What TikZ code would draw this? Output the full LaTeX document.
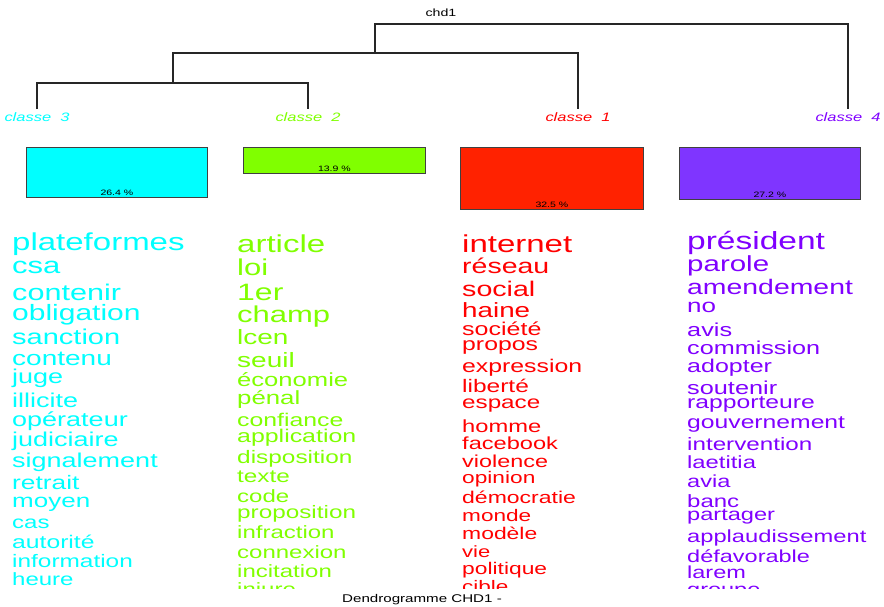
\documentclass[tikz,border=0pt]{standalone}
\usepackage{fontspec}
\setmainfont{Liberation Sans}
\usepackage{graphicx}
\usetikzlibrary{positioning}
\definecolor{c1}{HTML}{FF0000}
\definecolor{c2}{HTML}{80FF00}
\definecolor{c3}{HTML}{00FFFF}
\definecolor{c4}{HTML}{8000FF}
\definecolor{b1}{HTML}{FF2200}
\definecolor{b4}{HTML}{7F35FF}
\newcommand{\etire}[1]{\scalebox{1.35}[1]{#1}}
\begin{document}
\begin{tikzpicture}[x=1pt, y=-1pt]

      \tikzset{branche/.style={draw=black!85, line width=1.1pt},
               classe/.style={inner sep=0pt, font=\fontsize{12.2}{14}\selectfont\itshape},
               boite/.style={draw=black!75, line width=0.8pt, anchor=north west, inner sep=0pt},
               pct/.style={anchor=base, inner sep=0pt, font=\fontsize{7.8}{9}\selectfont},
               mot/.style={anchor=base west, inner sep=0pt}}
      \useasboundingbox[fill=white] (0,0) rectangle (884,606);
%% Dendrogram
      	\node[inner sep=0pt, font=\fontsize{10.5}{12}\selectfont] (titre) at (441,13) {\etire{chd1}};
      	\coordinate (k3) at (37,109);
      	\coordinate (k2) at (308,109);
      	\coordinate (k1) at (578,109);
      	\coordinate (k4) at (848,109);
      	\coordinate (j32) at (173,83);
      	\coordinate (j321) at (375,53);
      	\coordinate (racine) at (611,24);
		\draw[branche] (k3) |- (j32) -| (k2);
		\draw[branche] (j32) |- (j321) -| (k1);
		\draw[branche] (j321) |- (racine) -| (k4);
      	\node[classe, text=c3] (l3) at (37,117) {\etire{classe~~3}};
      	\node[classe, text=c2] (l2) at (308,117) {\etire{classe~~2}};
      	\node[classe, text=c1] (l1) at (578,117) {\etire{classe~~1}};
      	\node[classe, text=c4] (l4) at (848,117) {\etire{classe~~4}};
%% Boxes
      	\node[boite, fill=c3, minimum width=181pt, minimum height=50pt] (bx3) at (26,147) {};
      	\node[boite, fill=c2, minimum width=182pt, minimum height=26pt] (bx2) at (243,147) {};
      	\node[boite, fill=b1, minimum width=183pt, minimum height=62pt] (bx1) at (460,147) {};
      	\node[boite, fill=b4, minimum width=181pt, minimum height=52pt] (bx4) at (679,147) {};
      	\node[pct] (p3) at ([yshift=2.4pt]bx3.south) {\etire{26.4 \%}};
      	\node[pct] (p2) at ([yshift=2.4pt]bx2.south) {\etire{13.9 \%}};
      	\node[pct] (p1) at ([yshift=2.4pt]bx1.south) {\etire{32.5 \%}};
      	\node[pct] (p4) at ([yshift=2.4pt]bx4.south) {\etire{27.2 \%}};
%% Words
      \begin{scope}
      	\clip (0,215) rectangle (884,588);
		\foreach \mt/\yb/\lw [count=\i] in {plateformes/250/33, csa/273/31, contenir/300/30.6,
		    obligation/320/30, sanction/344/29, contenu/365/28, juge/383/27, illicite/407/27,
		    opérateur/426/27, judiciaire/446/27, signalement/467/27, retrait/489/26.3,
		    moyen/507/26, cas/528/24, autorité/548/24.7, information/567/24.4, heure/585/24}{
		  \pgfmathsetmacro\fs{\lw/1.35}
		  \node[mot, text=c3, font=\fontsize{\fs}{\fs}\selectfont] (m3-\i) at (12,\yb) {\etire{\mt}};
		}
		\foreach \mt/\yb/\lw [count=\i] in {article/252/33, loi/275/31, 1er/300/32, champ/322/31,
		    lcen/344/28, seuil/367/28, économie/386/25.6, pénal/404/25.8, confiance/426/24.8,
		    application/442/24.9, disposition/463/24.4, texte/482/24.3, code/502/24,
		    proposition/518/24.3, infraction/538/24, connexion/558/24, incitation/577/24, injure/595/24}{
		  \pgfmathsetmacro\fs{\lw/1.35}
		  \node[mot, text=c2, font=\fontsize{\fs}{\fs}\selectfont] (m2-\i) at (237,\yb) {\etire{\mt}};
		}
		\foreach \mt/\yb/\lw [count=\i] in {internet/252/33, réseau/273/28.5, social/296/28.6,
		    haine/317/27.8, société/335/25, propos/350/24.8, expression/372/24.8, liberté/392/24.5,
		    espace/408/24.2, homme/432/23.7, facebook/449/23.6, violence/467/23.4, opinion/483/22.7,
		    démocratie/503/23, monde/521/22.6, modèle/539/22.9, vie/557/22, politique/574/22.8, cible/592/22.5}{
		  \pgfmathsetmacro\fs{\lw/1.35}
		  \node[mot, text=c1, font=\fontsize{\fs}{\fs}\selectfont] (m1-\i) at (462,\yb) {\etire{\mt}};
		}
		\foreach \mt/\yb/\lw [count=\i] in {président/249/33.5, parole/271/29.5, amendement/294/28.4,
		    no/312/26, avis/336/25.3, commission/354/25.2, adopter/372/25, soutenir/394/25.3,
		    rapporteure/408/24.7, gouvernement/428/24.7, intervention/450/24.2, laetitia/468/23.8,
		    avia/487/23.6, banc/507/24, partager/520/23.6, applaudissement/542/23.7,
		    défavorable/562/23.5, larem/578/23.5, groupe/595/23.5}{
		  \pgfmathsetmacro\fs{\lw/1.35}
		  \node[mot, text=c4, font=\fontsize{\fs}{\fs}\selectfont] (m4-\i) at (687,\yb) {\etire{\mt}};
		}
      \end{scope}
%% Caption
      	\node[anchor=base, inner sep=0pt, font=\fontsize{11.2}{13}\selectfont] (legende) at (422,602) {\etire{Dendrogramme CHD1 -}};

	\end{tikzpicture}
\end{document}
